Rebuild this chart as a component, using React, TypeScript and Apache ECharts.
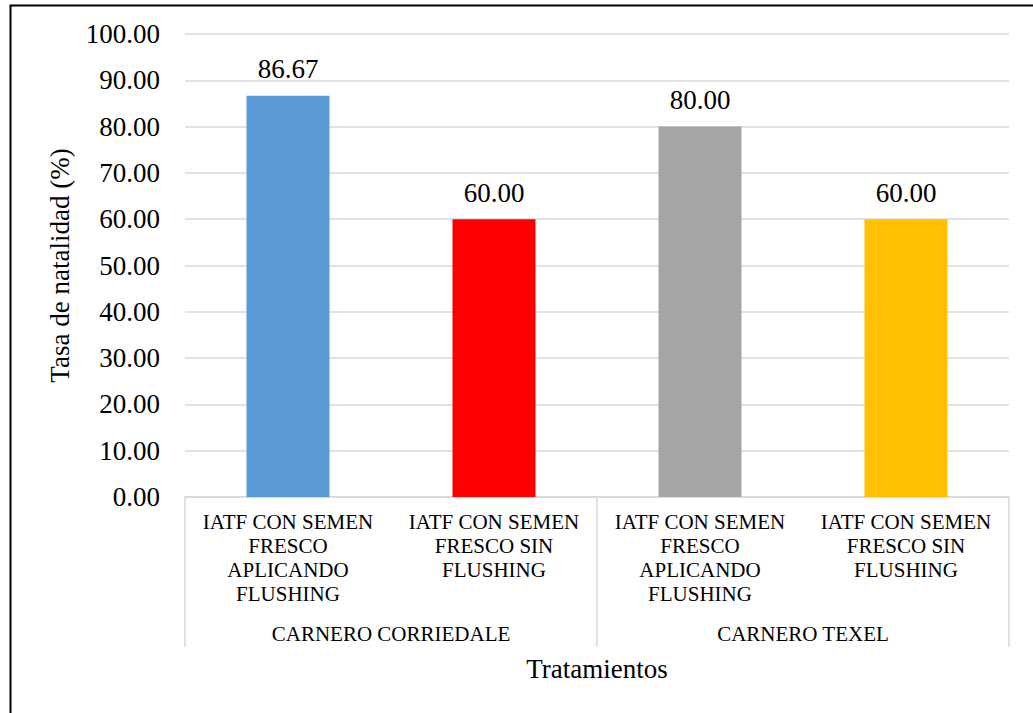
import React, { useEffect, useRef } from "react";
import * as echarts from "echarts";

const categories = [
  "IATF CON SEMEN\nFRESCO\nAPLICANDO\nFLUSHING",
  "IATF CON SEMEN\nFRESCO SIN\nFLUSHING",
  "IATF CON SEMEN\nFRESCO\nAPLICANDO\nFLUSHING",
  "IATF CON SEMEN\nFRESCO SIN\nFLUSHING",
];
const groups = ["CARNERO CORRIEDALE", "CARNERO TEXEL"];
const values = [86.67, 60.0, 80.0, 60.0];
const barColors = ["#5B9BD5", "#FF0000", "#A5A5A5", "#FFC000"];
const yTitle = "Tasa de natalidad (%)";
const xTitle = "Tratamientos";

const FONT = "'Liberation Serif', 'Times New Roman', serif";

export default function App() {
  const ref = useRef<HTMLDivElement>(null);
  useEffect(() => {
    if (!ref.current) return;
    const chart = echarts.init(ref.current, undefined, { renderer: "svg" });
    chart.setOption({
      animation: false,
      backgroundColor: "#fff",
      textStyle: { fontFamily: FONT, color: "#000" },
      grid: { left: 185, right: 24, top: 34, bottom: 216, containLabel: false },
      graphic: [
        {
          type: "rect",
          shape: { x: 10.5, y: 5.5, width: 1040, height: 720 },
          style: { fill: "none", stroke: "#000", lineWidth: 2 },
          silent: true,
        },
      ],
      xAxis: [
        {
          type: "category",
          data: categories,
          position: "bottom",
          axisLine: { show: true, lineStyle: { color: "#d9d9d9", width: 1.5 } },
          axisTick: { show: false },
          axisLabel: {
            interval: 0,
            margin: 13,
            fontFamily: FONT,
            fontSize: 21,
            lineHeight: 24,
            color: "#000",
            align: "center",
          },
        },
        {
          type: "category",
          data: groups,
          position: "bottom",
          offset: 0,
          axisLine: { show: false },
          axisTick: {
            show: true,
            interval: 0,
            length: 150,
            lineStyle: { color: "#d9d9d9", width: 1.5 },
          },
          axisLabel: {
            interval: 0,
            margin: 126,
            fontFamily: FONT,
            fontSize: 21,
            color: "#000",
          },
          name: xTitle,
          nameLocation: "middle",
          nameGap: 158,
          nameTextStyle: { fontFamily: FONT, fontSize: 27, color: "#000" },
        },
      ],
      yAxis: {
        type: "value",
        min: 0,
        max: 100,
        interval: 10,
        axisLine: { show: false },
        axisTick: { show: false },
        splitLine: { lineStyle: { color: "#d9d9d9", width: 1.5 } },
        axisLabel: {
          margin: 25,
          fontFamily: FONT,
          fontSize: 27,
          color: "#000",
          formatter: (v: number) => v.toFixed(2),
        },
        name: yTitle,
        nameLocation: "middle",
        nameGap: 112,
        nameTextStyle: { fontFamily: FONT, fontSize: 27, color: "#000" },
      },
      series: [
        {
          type: "bar",
          xAxisIndex: 0,
          barWidth: 83,
          data: values.map((v, i) => ({ value: v, itemStyle: { color: barColors[i] } })),
          label: {
            show: true,
            position: "top",
            distance: 13,
            fontFamily: FONT,
            fontSize: 27,
            color: "#000",
            formatter: (p: any) => Number(p.value).toFixed(2),
          },
        },
      ],
    });
    return () => chart.dispose();
  }, []);
  return (
    <div
      ref={ref}
      style={{ position: "absolute", left: 0, top: 0, width: 1033, height: 713 }}
    />
  );
}
